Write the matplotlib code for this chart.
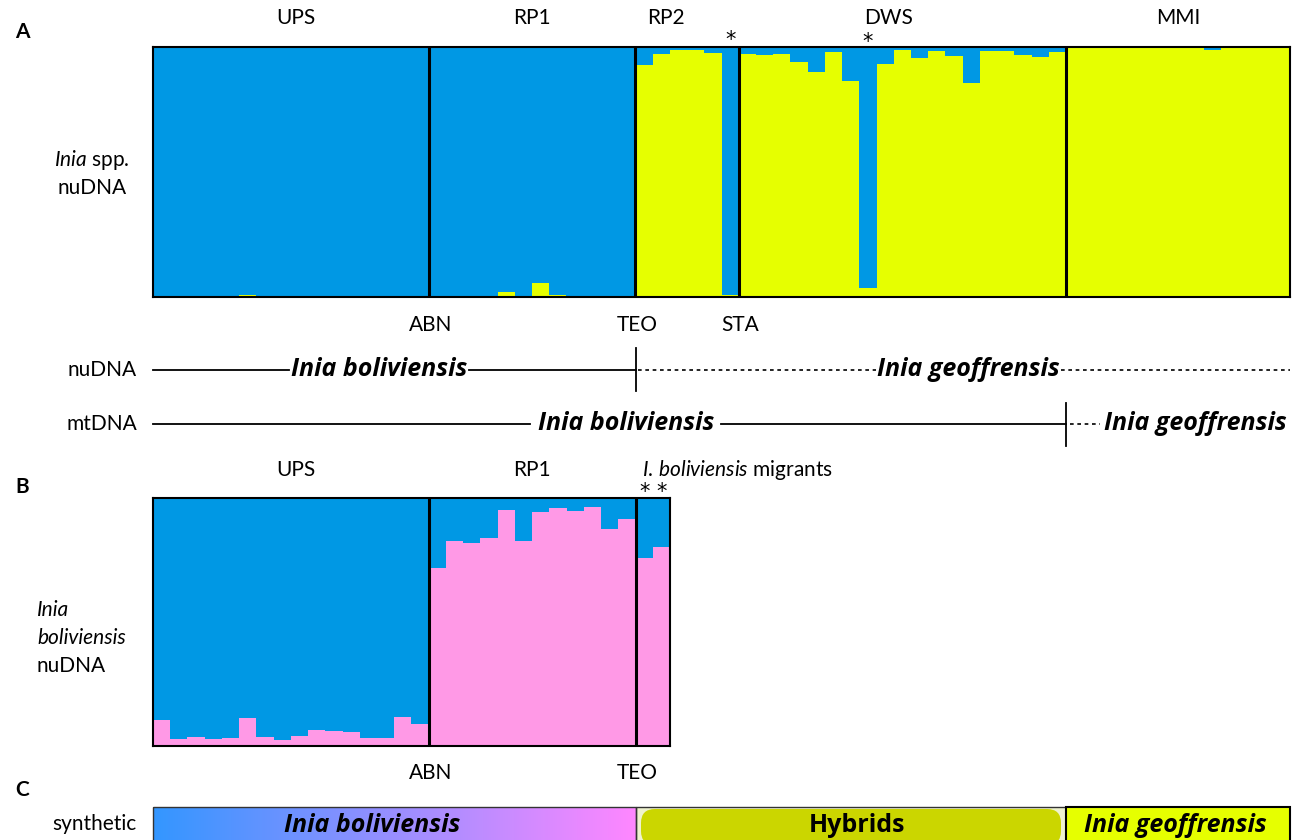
import numpy as np
import matplotlib
matplotlib.use("Agg")
import matplotlib.pyplot as plt
from matplotlib.patches import Rectangle, FancyBboxPatch

plt.rcParams['font.family'] = ['Lato', 'DejaVu Sans']
plt.rcParams['mathtext.fontset'] = 'custom'
plt.rcParams['mathtext.rm'] = 'Lato'
plt.rcParams['mathtext.it'] = 'Lato:italic'
plt.rcParams['mathtext.bf'] = 'Lato:bold'

# colours
BLUE = '#0098e4'
YELLOW = '#e6ff00'
PINK = '#ff99e6'

# --- panel A: Inia spp. nuDNA, share of the "geoffrensis" (yellow) cluster per individual
groupsA = ['UPS', 'RP1', 'RP2', 'DWS', 'MMI']
ups_a = [0.004, 0, 0, 0, 0, 0.008, 0, 0, 0, 0, 0, 0, 0, 0, 0, 0.004]
rp1_a = [0, 0, 0, 0, 0.02, 0, 0.056, 0.008, 0.004, 0, 0, 0.004]
rp2_a = [0.929, 0.973, 0.989, 0.989, 0.977, 0.008]
dws_a = [0.973, 0.969, 0.973, 0.941, 0.901, 0.981, 0.865, 0.036, 0.933, 0.989,
         0.957, 0.985, 0.965, 0.857, 0.985, 0.985, 0.969, 0.961, 0.981]
mmi_a = [0.995, 0.995, 0.995, 0.995, 0.995, 0.995, 0.995, 0.995, 0.99, 0.995,
         0.995, 0.995, 0.995]
bottomA = ['ABN', 'TEO', 'STA']
starsA = [33, 41]  # starred individuals

# --- panel B: Inia boliviensis nuDNA, share of pink cluster
groupsB = ['UPS', 'RP1']
ups_b = [0.105, 0.030, 0.036, 0.030, 0.034, 0.113, 0.036, 0.026, 0.040, 0.064,
         0.060, 0.056, 0.034, 0.034, 0.117, 0.089]
rp1_b = [0.717, 0.826, 0.819, 0.838, 0.950, 0.826, 0.942, 0.958, 0.946, 0.962,
         0.874, 0.914]
mig_b = [0.757, 0.801]
bottomB = ['ABN', 'TEO']
starsB = [28, 29]

FS = 15
W, H = 1298, 840
fig = plt.figure(figsize=(W / 100, H / 100), dpi=100)


def px_axes(x0, y0, x1, y1):
    return fig.add_axes([x0 / W, 1 - y1 / H, (x1 - x0) / W, (y1 - y0) / H])


def structure(ax, groups, upper_col, lower_col):
    vals = np.concatenate(groups)
    x = np.arange(len(vals)) + 0.5
    ax.bar(x, vals, width=1.0, color=lower_col, linewidth=0)
    ax.bar(x, 1 - vals, bottom=vals, width=1.0, color=upper_col, linewidth=0)
    ax.set_xlim(0, len(vals))
    ax.set_ylim(0, 1)
    ax.set_xticks([])
    ax.set_yticks([])
    for s in ax.spines.values():
        s.set_linewidth(1.5)
    bounds = np.cumsum([len(g) for g in groups])[:-1]
    for b in bounds:
        ax.axvline(b, color='black', lw=2.2)
    return bounds


# panel A
axA = px_axes(153, 47, 1290, 297)
gA = [ups_a, rp1_a, rp2_a, dws_a, mmi_a]
bA = structure(axA, gA, BLUE, YELLOW)
edges = np.concatenate([[0], np.cumsum([len(g) for g in gA])])
shiftA = [0.3, 0, -1.2, -0.8, 0]
tr = axA.get_xaxis_transform()
for i, name in enumerate(groupsA):
    axA.text((edges[i] + edges[i + 1]) / 2 + shiftA[i], 1.116, name, transform=tr,
             ha='center', va='center', fontsize=FS)
for b, name in zip(bA[:3], bottomA):
    axA.text(b + 0.1, -0.112, name, transform=tr, ha='center', va='center', fontsize=FS)
for s, yy in zip(starsA, [1.03, 1.018]):
    axA.text(s + 0.5, yy, '*', transform=tr, ha='center', va='center', fontsize=15,
             family='DejaVu Sans')

# panel B
axB = px_axes(153, 498, 670, 746)
gB = [ups_b, rp1_b, mig_b]
bB = structure(axB, gB, BLUE, PINK)
edgesB = np.concatenate([[0], np.cumsum([len(g) for g in gB])])
trB = axB.get_xaxis_transform()
for i, name in enumerate(groupsB):
    axB.text((edgesB[i] + edgesB[i + 1]) / 2 + (0.3 if i == 0 else 0), 1.113, name,
             transform=trB, ha='center', va='center', fontsize=FS)
axB.text(edgesB[2] + 0.4, 1.113, r'$\mathit{I.\,boliviensis}$ migrants', transform=trB,
         ha='left', va='center', fontsize=FS)
for s in starsB:
    axB.text(s + 0.5, 1.025, '*', transform=trB, ha='center', va='center', fontsize=15,
             family='DejaVu Sans')
for b, name in zip(bB, bottomB):
    axB.text(b + 0.1, -0.109, name, transform=trB, ha='center', va='center', fontsize=FS)

# overlay in pixel coordinates for annotation rows
ov = fig.add_axes([0, 0, 1, 1], zorder=5)
ov.patch.set_alpha(0)
ov.axis('off')

for lbl, yy in [('A', 32), ('B', 487), ('C', 790)]:
    ov.text(15, yy, lbl, fontsize=FS, fontweight='bold', ha='left', va='center')

ov.text(92, 160, r'$\mathit{Inia}$ spp.', fontsize=FS, ha='center', va='center')
ov.text(92, 188, 'nuDNA', fontsize=FS, ha='center', va='center')
ov.text(37, 610, 'Inia', fontsize=FS, style='italic', ha='left', va='center')
ov.text(37, 638, 'boliviensis', fontsize=FS, style='italic', ha='left', va='center')
ov.text(37, 666, 'nuDNA', fontsize=FS, ha='left', va='center')

sp = dict(fontsize=18, fontweight='bold', style='italic', ha='center', va='center',
          family=['Open Sans', 'DejaVu Sans'])
# nuDNA row
y1 = 370
ov.text(137, y1, 'nuDNA', fontsize=FS, ha='right', va='center')
ov.plot([153, 289], [y1, y1], color='black', lw=1.3)
ov.text(379, y1, 'Inia boliviensis', **sp)
ov.plot([469, 636], [y1, y1], color='black', lw=1.3)
ov.plot([636, 636], [348, 391], color='black', lw=1.3)
ov.plot([638, 876], [y1, y1], color='black', lw=1.2, ls=(0, (2.2, 2.2)))
ov.text(968, y1, 'Inia geoffrensis', **sp)
ov.plot([1061, 1290], [y1, y1], color='black', lw=1.2, ls=(0, (2.2, 2.2)))
# mtDNA row
y2 = 424
ov.text(137, y2, 'mtDNA', fontsize=FS, ha='right', va='center')
ov.plot([153, 530], [y2, y2], color='black', lw=1.3)
ov.text(626, y2, 'Inia boliviensis', **sp)
ov.plot([721, 1066], [y2, y2], color='black', lw=1.3)
ov.plot([1066, 1066], [403, 446], color='black', lw=1.3)
ov.plot([1070, 1100], [y2, y2], color='black', lw=1.2, ls=(0, (2.2, 2.2)))
ov.text(1195, y2, 'Inia geoffrensis', **sp)

# panel C synthetic bar
ov.text(137, 824, 'synthetic', fontsize=FS, ha='right', va='center')
grad = np.linspace(0, 1, 256)
c0 = np.array([0.20, 0.59, 1.0])
c1 = np.array([1.0, 0.53, 1.0])
img = (c0[None, :] * (1 - grad[:, None]) + c1[None, :] * grad[:, None])[None, :, :]
ov.imshow(img, extent=(153, 636, 842, 807), aspect='auto', zorder=1)
ov.add_patch(Rectangle((153, 807), 483, 35, fill=False, ec='#333333', lw=1.0, zorder=2))
ov.add_patch(Rectangle((636, 807), 430, 35, fc='#eef2cf', ec='#333333', lw=1.0, zorder=1))
ov.add_patch(FancyBboxPatch((641, 809), 420, 36, boxstyle='round,pad=0,rounding_size=14',
                            fc='#cbd600', ec='none', zorder=2))
ov.add_patch(Rectangle((1066, 807), 224, 35, fc=YELLOW, ec='black', lw=1.5, zorder=2))
ov.text(372, 825, 'Inia boliviensis', zorder=3, **sp)
ov.text(857, 825, 'Hybrids', fontsize=18, fontweight='bold', ha='center', va='center',
        zorder=3, family=['Open Sans', 'DejaVu Sans'])
ov.text(1175, 825, 'Inia geoffrensis', zorder=3, **sp)

ov.set_xlim(0, W)
ov.set_ylim(H, 0)

fig.savefig('out.png', dpi=100)
